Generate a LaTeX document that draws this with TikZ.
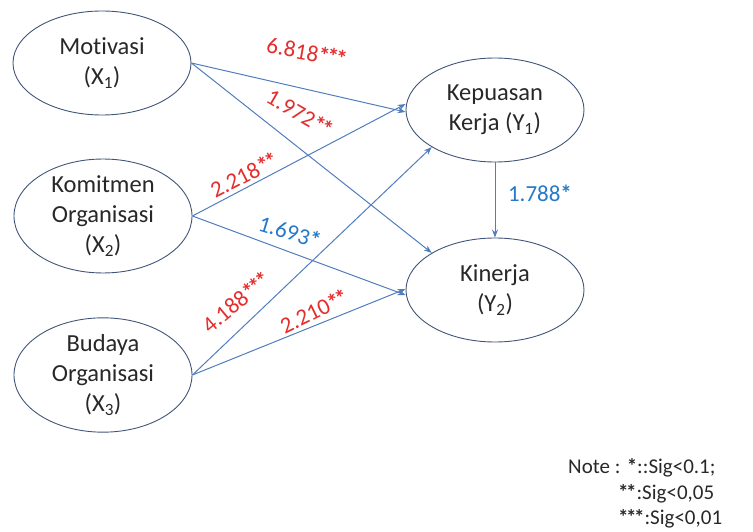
\documentclass[tikz,border=0pt]{standalone}
\usepackage{fontspec}
\setmainfont{Carlito}[Ligatures=NoCommon]
\usetikzlibrary{shapes.geometric,arrows.meta}
\definecolor{lblred}{RGB}{228,45,45}
\definecolor{lblblue}{RGB}{40,120,200}
\definecolor{arrowblue}{RGB}{80,125,190}
\definecolor{ellline}{RGB}{65,85,120}
\definecolor{txtdark}{RGB}{40,40,40}
\tikzset{
  latent/.style={ellipse, draw=ellline, line width=0.9pt, minimum width=178pt, minimum height=104pt, inner sep=0pt, align=center, text=txtdark, font=\fontsize{24.5}{30}\selectfont},
  path/.style={draw=arrowblue, line width=1pt, -{Stealth[length=8pt,width=6pt]}},
  redlbl/.style={text=lblred, font=\fontsize{23}{26}\selectfont, inner sep=0pt},
  bluelbl/.style={text=lblblue, font=\fontsize{23}{26}\selectfont, inner sep=0pt},
  notetxt/.style={text=txtdark, font=\fontsize{21}{24}\selectfont, inner sep=0pt, anchor=base west}
}
\newcommand{\stars}[1]{{\bfseries\addfontfeatures{LetterSpace=-12}#1}}
\begin{document}
\begin{tikzpicture}[x=1pt,y=-1pt]
\useasboundingbox (0,0) rectangle (753,532);
\node[latent] (X1) at (102,63) {Motivasi\\(X\textsubscript{1})};
\node[latent] (X2) at (103,216) {Komitmen\\Organisasi\\(X\textsubscript{2})};
\node[latent] (X3) at (103,375) {Budaya\\Organisasi\\(X\textsubscript{3})};
\node[latent] (Y1) at (495,110) {Kepuasan\\Kerja (Y\textsubscript{1})};
\node[latent] (Y2) at (495,290) {Kinerja\\(Y\textsubscript{2})};

\draw[path] (X1.east) -- ([yshift=-2pt]Y1.west);
\draw[path] (X1.east) -- (Y2.north west);
\draw[path] (X2.east) -- ([yshift=6pt]Y1.west);
\draw[path] (X2.east) -- ([yshift=-5pt]Y2.west);
\draw[path] (X3.east) -- (Y1.south west);
\draw[path] (X3.east) -- ([yshift=1pt]Y2.west);
\draw[path] (Y1.south) -- (Y2.north);

\node[redlbl, rotate=-10] (l1) at (307,52) {6.818\stars{***}};
\node[redlbl, rotate=-30] (l2) at (300,113) {1.972\stars{**}};
\node[redlbl, rotate=27] (l3) at (244,175) {2.218\stars{**}};
\node[bluelbl, rotate=-17] (l4) at (290,232) {1.693\stars{*}};
\node[redlbl, rotate=40] (l5) at (236,302) {4.188\stars{***}};
\node[redlbl, rotate=26] (l6) at (314,311) {2.210\stars{**}};
\node[bluelbl] (l7) at (540,193) {1.788\stars{*}};

\node[notetxt] (n1) at (568,473) {Note : \stars{*}::Sig<0.1;};
\node[notetxt] (n2) at (618,499) {\stars{**}:Sig<0,05};
\node[notetxt] (n3) at (618,524) {\stars{***}:Sig<0,01};
\end{tikzpicture}
\end{document}
